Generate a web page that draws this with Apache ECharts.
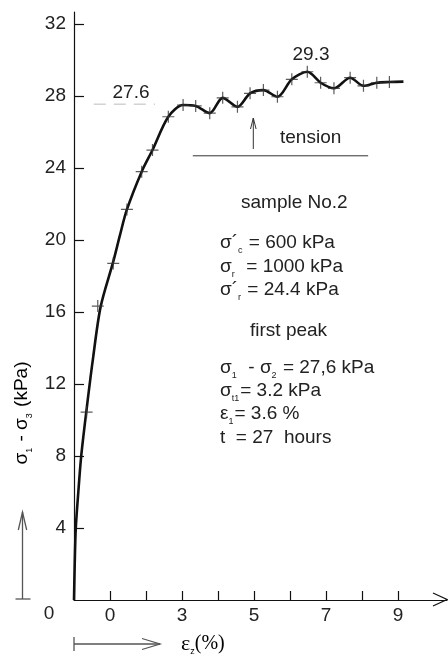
<!DOCTYPE html>
<html>
<head>
<meta charset="utf-8">
<script src="https://cdn.jsdelivr.net/npm/echarts@6/dist/echarts.min.js"></script>
<style>
  html, body { margin: 0; padding: 0; background: #fff; }
  #chart { width: 448px; height: 657px; }
</style>
</head>
<body>
<div id="chart"></div>
<script>
// axis ticks / labels
const xTickValues = [1, 2, 3, 4, 5, 6, 7, 8, 9]
const xLabelValues = [1, 3, 5, 7, 9]
const xLabelText = ['0', '3', '5', '7', '9']
const yTickValues = [4, 8, 12, 16, 20, 24, 28, 32]

// stress-strain curve
const curveX = [0, 0.02, 0.05, 0.12, 0.2, 0.35, 0.52, 0.74, 1.09, 1.28, 1.47, 1.88, 2.18, 2.62, 3.03, 3.38, 3.77, 4.13, 4.54, 4.89, 5.26, 5.65, 6.05, 6.48, 6.85, 7.22, 7.67, 8.04, 8.41, 8.76, 9.15]
const curveY = [0, 2, 4, 6, 8, 10.6, 13.3, 16.3, 18.8, 20.3, 21.7, 23.8, 25.0, 26.85, 27.5, 27.45, 27.05, 27.9, 27.4, 28.15, 28.33, 27.96, 28.93, 29.35, 28.74, 28.43, 29.02, 28.57, 28.74, 28.78, 28.8]

// measured points (+ marks)
const markX = [0.35, 0.66, 1.09, 1.47, 1.88, 2.18, 2.62, 3.03, 3.38, 3.77, 4.13, 4.54, 4.89, 5.26, 5.65, 6.05, 6.48, 6.85, 7.22, 7.67, 8.04, 8.41, 8.76]
const markY = [10.44, 16.33, 18.7, 21.7, 23.8, 25.0, 26.85, 27.5, 27.45, 27.05, 27.9, 27.4, 28.15, 28.33, 27.96, 28.93, 29.35, 28.74, 28.43, 29.02, 28.57, 28.74, 28.78]

// first peak guide and tension baseline
const peakLineX = [0.55, 2.25]
const peakLineY = [27.55, 27.55]
const tensionX = [3.3, 8.17]
const tensionY = [24.68, 24.68]

const zip = (xs, ys) => xs.map((x, i) => [x, ys[i]])

const FONT = '"Liberation Sans", Arial, sans-serif'
const TXT = '#222'
const fs = 19

const rich = {
  m: { fontSize: fs, fontFamily: FONT, color: TXT, lineHeight: 24 },
  s: { fontSize: 9, fontFamily: FONT, color: TXT, lineHeight: 24, verticalAlign: 'bottom', padding: [0, 1, 0, 0] }
}
const textLine = (x, y, text) => ({
  type: 'text',
  x: x,
  y: y,
  style: {
    text: text,
    fill: TXT,
    font: fs + 'px ' + FONT,
    verticalAlign: 'middle',
    rich: rich
  }
})

const myChart = echarts.init(document.getElementById('chart'))

const crossPath = 'path://M4.5,0H5.5V10H4.5ZM0,4.5H10V5.5H0Z'

const options = {
  animation: false,
  grid: { left: 74, right: 1, top: 12, bottom: 57 },
  xAxis: {
    type: 'value',
    min: 0,
    max: 10.36,
    interval: 1,
    splitLine: { show: false },
    axisLine: { lineStyle: { color: '#111', width: 1.2 } },
    axisTick: { inside: true, length: 9, customValues: xTickValues, lineStyle: { color: '#111', width: 1.2 } },
    axisLabel: {
      customValues: xLabelValues,
      formatter: v => xLabelText[xLabelValues.indexOf(v)],
      margin: 6,
      fontSize: fs,
      fontFamily: FONT,
      color: TXT
    }
  },
  yAxis: {
    type: 'value',
    min: 0,
    max: 32.67,
    interval: 4,
    splitLine: { show: false },
    axisLine: { lineStyle: { color: '#111', width: 1.2 } },
    axisTick: { inside: true, length: 10, customValues: yTickValues, lineStyle: { color: '#111', width: 1.2 } },
    axisLabel: {
      customValues: yTickValues,
      margin: 8,
      fontSize: fs,
      fontFamily: FONT,
      color: TXT
    }
  },
  series: [
    {
      type: 'line',
      data: zip(curveX, curveY),
      smooth: 0.3,
      showSymbol: false,
      lineStyle: { color: '#111', width: 2.6 },
      z: 3
    },
    {
      type: 'scatter',
      data: zip(markX, markY),
      symbol: crossPath,
      symbolSize: 12,
      itemStyle: { color: '#333' },
      z: 4
    },
    {
      type: 'line',
      data: zip(peakLineX, peakLineY),
      showSymbol: false,
      lineStyle: { color: '#bbb', width: 1, type: [12, 8] }
    },
    {
      type: 'line',
      data: zip(tensionX, tensionY),
      showSymbol: false,
      lineStyle: { color: '#333', width: 1 }
    }
  ],
  graphic: [
    // x-axis open arrow head
    { type: 'polyline', shape: { points: [[433, 593], [447, 599.5], [433, 606]] }, style: { stroke: '#111', lineWidth: 1.2, fill: null } },
    // y-axis zero label
    { type: 'text', x: 49, y: 614, style: { text: '0', font: fs + 'px ' + FONT, fill: TXT, align: 'center', verticalAlign: 'middle' } },
    // left upward arrow
    { type: 'polyline', shape: { points: [[15.5, 599], [30.5, 599]] }, style: { stroke: '#555', lineWidth: 1.3 } },
    { type: 'polyline', shape: { points: [[22.5, 599], [22.5, 512]] }, style: { stroke: '#555', lineWidth: 1.3 } },
    { type: 'polyline', shape: { points: [[18.3, 530], [22.5, 512], [26.7, 530]] }, style: { stroke: '#555', lineWidth: 1.3, fill: null } },
    // y-axis title
    {
      type: 'text',
      x: 22,
      y: 413,
      rotation: Math.PI / 2,
      style: {
        text: '{m|σ}{s|1}{m| - σ}{s|3}{m| (kPa)}',
        align: 'center',
        verticalAlign: 'middle',
        rich: rich
      }
    },
    // bottom strain arrow
    { type: 'polyline', shape: { points: [[74, 637], [74, 651]] }, style: { stroke: '#555', lineWidth: 1.3 } },
    { type: 'polyline', shape: { points: [[74, 644], [160, 644]] }, style: { stroke: '#555', lineWidth: 1.3 } },
    { type: 'polyline', shape: { points: [[142, 638.5], [160, 644], [142, 649.5]] }, style: { stroke: '#555', lineWidth: 1.3, fill: null } },
    {
      type: 'text',
      x: 181,
      y: 644,
      style: {
        text: '{e|ε}{s|z}{p|(%)}',
        verticalAlign: 'middle',
        rich: {
          e: { fontSize: 22, fontFamily: '"Liberation Serif", serif', color: TXT, lineHeight: 24 },
          s: { fontSize: 9, fontFamily: FONT, color: TXT, lineHeight: 24, verticalAlign: 'bottom' },
          p: { fontSize: 20, fontFamily: '"Liberation Serif", serif', color: TXT, lineHeight: 24 }
        }
      }
    },
    // peak labels
    { type: 'text', x: 131, y: 93, style: { text: '27.6', font: fs + 'px ' + FONT, fill: TXT, align: 'center', verticalAlign: 'middle' } },
    { type: 'text', x: 311, y: 55, style: { text: '29.3', font: fs + 'px ' + FONT, fill: TXT, align: 'center', verticalAlign: 'middle' } },
    // tension arrow + label
    { type: 'polyline', shape: { points: [[253.3, 149], [253.3, 118]] }, style: { stroke: '#333', lineWidth: 1 } },
    { type: 'polyline', shape: { points: [[250.5, 129], [253.3, 118], [256.1, 129]] }, style: { stroke: '#333', lineWidth: 1, fill: null } },
    { type: 'text', x: 280, y: 138, style: { text: 'tension', font: fs + 'px ' + FONT, fill: TXT, verticalAlign: 'middle' } },
    // sample description
    textLine(241, 203, '{m|sample No.2}'),
    textLine(220, 243, '{m|σ´}{s|c}{m| = 600 kPa}'),
    textLine(220, 267, '{m|σ}{s|r}{m|  = 1000 kPa}'),
    textLine(220, 290, '{m|σ´}{s|r}{m| = 24.4 kPa}'),
    textLine(250, 331, '{m|first peak}'),
    textLine(220, 368, '{m|σ}{s|1}{m|  - σ}{s|2}{m| = 27,6 kPa}'),
    textLine(220, 391, '{m|σ}{s|t1}{m|= 3.2 kPa}'),
    textLine(220, 414, '{m|ε}{s|1}{m|= 3.6 %}'),
    textLine(220, 438, '{m|t  = 27  hours}')
  ]
}
myChart.setOption(options)
</script>
</body>
</html>
